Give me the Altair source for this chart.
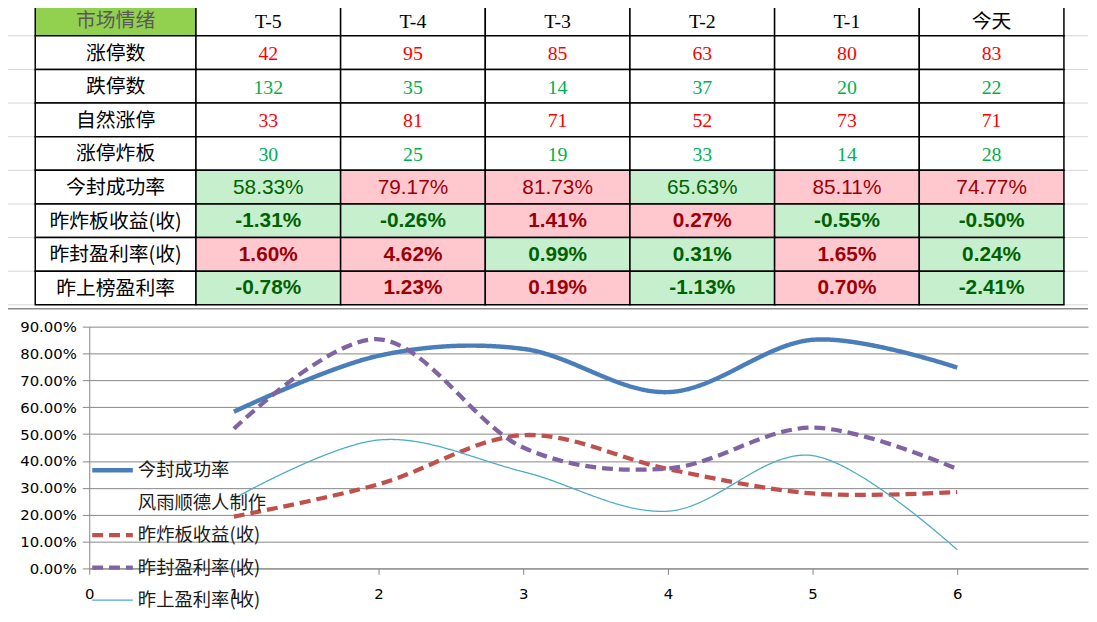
import altair as alt
import pandas as pd

# ---------------- table content ----------------
corner_label = "市场情绪"
day_labels = ["T-5", "T-4", "T-3", "T-2", "T-1", "今天"]
row_labels = ["涨停数", "跌停数", "自然涨停", "涨停炸板", "今封成功率",
              "昨炸板收益(收)", "昨封盈利率(收)", "昨上榜盈利率"]
limit_up = [42, 95, 85, 63, 80, 83]
limit_down = [132, 35, 14, 37, 20, 22]
natural_up = [33, 81, 71, 52, 73, 71]
limit_broken = [30, 25, 19, 33, 14, 28]
seal_rate = [58.33, 79.17, 81.73, 65.63, 85.11, 74.77]
broken_ret = [-1.31, -0.26, 1.41, 0.27, -0.55, -0.50]
sealed_ret = [1.60, 4.62, 0.99, 0.31, 1.65, 0.24]
listed_ret = [-0.78, 1.23, 0.19, -1.13, 0.70, -2.41]

# ---------------- line chart content ----------------
x_points = [1, 2, 3, 4, 5, 6]
series_names = ["今封成功率", "风雨顺德人制作", "昨炸板收益(收)", "昨封盈利率(收)", "昨上盈利率(收)"]
line_seal = [58.33, 79.17, 81.73, 65.63, 85.11, 74.77]
line_broken = [19.3, 31.3, 49.6, 37.0, 27.9, 28.4]
line_sealed = [52.0, 85.3, 45.0, 37.2, 52.4, 37.0]
line_listed = [26.0, 47.8, 36.0, 21.3, 42.0, 6.9]
y_ticks = [0, 10, 20, 30, 40, 50, 60, 70, 80, 90]
x_ticks = [0, 1, 2, 3, 4, 5, 6]

# ---------------- styles / layout ----------------
RED_NUM = "#FF0000"
GREEN_NUM = "#00B050"
PINK_BG, PINK_TXT = "#FFC7CE", "#9C0006"
GREEN_BG, GREEN_TXT = "#C6EFCE", "#006100"
CORNER_BG = "#92D050"
SERIES_COLORS = ["#4A7EBB", "#FFFFFF", "#C0504D", "#8064A2", "#4BACC6"]
SERIES_DASH = [[1, 0], [1, 0], [11, 6], [11, 6], [1, 0]]
SERIES_WIDTH = {"今封成功率": 4.5, "风雨顺德人制作": 0.0, "昨炸板收益(收)": 4.3,
                "昨封盈利率(收)": 4.3, "昨上盈利率(收)": 1.3}
GRID = "#868686"

PAGE_W = 1097
PLOT_LEFT = 89
PLOT_W = 1008
TABLE_LEFT = 34.5
LABEL_W = 162.2
COL_W = 146
TABLE_H = 304
ROW_TOP_CUT = 0.043          # the header row is partly cropped at the top edge
CJK = "Noto Sans CJK SC"
SERIF = "'Liberation Serif', 'Noto Sans CJK SC'"
SANS = "'Liberation Sans', 'Noto Sans CJK SC'"

edges = [TABLE_LEFT, TABLE_LEFT + LABEL_W] + [TABLE_LEFT + LABEL_W + COL_W * (i + 1) for i in range(6)]

# thresholds for conditional formatting of the percentage rows
pct_rows = {5: (seal_rate, 70.0), 6: (broken_ret, 0.0), 7: (sealed_ret, 1.0), 8: (listed_ret, 0.0)}
count_rows = {1: (limit_up, RED_NUM), 2: (limit_down, GREEN_NUM), 3: (natural_up, RED_NUM), 4: (limit_broken, GREEN_NUM)}

cells = []
for r in range(9):
    for c in range(7):
        fill, text, tcolor, kind = "#FFFFFF", "", "#000000", "serif"
        if r == 0:
            if c == 0:
                fill, text, tcolor, kind = CORNER_BG, corner_label, "#5A5A5A", "hcjk"
            else:
                text, kind = day_labels[c - 1], "hserif"
        elif c == 0:
            text, kind = row_labels[r - 1], "cjk"
        elif r in count_rows:
            vals, col = count_rows[r]
            text, tcolor = str(vals[c - 1]), col
        else:
            vals, thr = pct_rows[r]
            v = vals[c - 1]
            good = v >= thr if r != 7 else v > thr
            fill, tcolor = (PINK_BG, PINK_TXT) if good else (GREEN_BG, GREEN_TXT)
            text = f"{v:.2f}%"
            kind = "pct" if r == 5 else "pctb"
        cells.append(dict(x0=edges[c], x1=edges[c + 1], xc=(edges[c] + edges[c + 1]) / 2,
                          y0=r, y1=r + 1, yc=r + 0.5, fill=fill, text=text, tc=tcolor, kind=kind))
cells = pd.DataFrame(cells)

tx = alt.Scale(domain=[PLOT_LEFT, PLOT_LEFT + PLOT_W], nice=False, zero=False)
ty = alt.Scale(domain=[ROW_TOP_CUT, 9], reverse=True, nice=False, zero=False)

sheet_lines = pd.DataFrame({"y": list(range(1, 10)), "x0": [0] * 9, "x1": [PAGE_W] * 9})
gray = alt.Chart(sheet_lines).mark_rule(color="#D4D4D4", strokeWidth=1).encode(
    x=alt.X("x0:Q", scale=tx, axis=None), x2="x1:Q",
    y=alt.Y("y:Q", scale=ty, axis=None))

frame = alt.Chart(pd.DataFrame({"x0": [0], "x1": [PAGE_W]})).mark_rule(color="#8C8C8C", strokeWidth=1.5).encode(
    x=alt.X("x0:Q", scale=tx, axis=None), x2="x1:Q", y=alt.value(TABLE_H + 4))

rects = alt.Chart(cells).mark_rect(stroke="#000000", strokeWidth=1.5).encode(
    x=alt.X("x0:Q", scale=tx, axis=None), x2="x1:Q",
    y=alt.Y("y0:Q", scale=ty, axis=None), y2="y1:Q",
    color=alt.Color("fill:N", scale=None))


def text_layer(kind, font, size, weight="normal", dy=2):
    return alt.Chart(cells[cells.kind == kind]).mark_text(
        font=font, fontSize=size, fontWeight=weight, baseline="middle", align="center", dy=dy).encode(
        x=alt.X("xc:Q", scale=tx, axis=None),
        y=alt.Y("yc:Q", scale=ty, axis=None),
        text="text:N",
        color=alt.Color("tc:N", scale=None))


table = alt.layer(
    gray, frame, rects,
    text_layer("hserif", SERIF, 20, dy=3),
    text_layer("hcjk", CJK, 20, dy=2.5),
    text_layer("serif", SERIF, 20, dy=1.5),
    text_layer("cjk", CJK, 20, dy=1),
    text_layer("pct", SANS, 21, dy=0.5),
    text_layer("pctb", SANS, 21, "bold", dy=0.5),
).properties(width=PLOT_W, height=TABLE_H)

# ---------------- line chart ----------------
rows = []
for name, vals in zip([series_names[0], series_names[2], series_names[3], series_names[4]],
                      [line_seal, line_broken, line_sealed, line_listed]):
    for x, v in zip(x_points, vals):
        rows.append(dict(series=name, x=x, v=v, w=SERIES_WIDTH[name]))
lines_df = pd.DataFrame(rows)

color_s = alt.Scale(domain=series_names, range=SERIES_COLORS)
dash_s = alt.Scale(domain=series_names, range=SERIES_DASH)

lines = alt.Chart(lines_df).mark_line(interpolate="cardinal", strokeCap="butt").encode(
    x=alt.X("x:Q", scale=alt.Scale(domain=[0, PLOT_W / 146], nice=False, zero=False),
            axis=alt.Axis(values=x_ticks, format="d", title=None, grid=False,
                          labelFont="DejaVu Sans", labelFontSize=15, labelColor="#000000",
                          tickSize=6, tickColor=GRID, domainColor=GRID, labelPadding=12,
                          labelFlush=False)),
    y=alt.Y("v:Q", scale=alt.Scale(domain=[0, 90], nice=False, zero=False),
            axis=alt.Axis(values=y_ticks, labelExpr="format(datum.value, '.2f') + '%'", title=None,
                          grid=True, gridColor=GRID, gridWidth=1, gridOpacity=1,
                          labelFont="DejaVu Sans", labelFontSize=15, labelColor="#000000",
                          tickSize=7, tickColor=GRID, domainColor=GRID, labelPadding=6)),
    color=alt.Color("series:N", scale=color_s, legend=None),
    strokeDash=alt.StrokeDash("series:N", scale=dash_s, legend=None),
    strokeWidth=alt.StrokeWidth("w:Q", scale=None),
    detail="series:N",
)

legend_df = pd.DataFrame({"series": series_names, "w": [SERIES_WIDTH[n] for n in series_names]})
leg_y = alt.Y("series:N", scale=alt.Scale(type="point", domain=series_names, range=[145, 276], padding=0),
              axis=None)
leg_rules = alt.Chart(legend_df[legend_df.series != series_names[1]]).mark_rule(strokeCap="butt").encode(
    x=alt.value(3), x2=alt.value(44), y=leg_y,
    color=alt.Color("series:N", scale=color_s, legend=None),
    strokeDash=alt.StrokeDash("series:N", scale=dash_s, legend=None),
    strokeWidth=alt.StrokeWidth("w:Q", scale=None),
)
leg_text = alt.Chart(legend_df).mark_text(align="left", baseline="middle", font=CJK, fontSize=18.5,
                                          color="#1A1A1A").encode(
    x=alt.value(49), y=leg_y, text="series:N")

line_chart = alt.layer(lines, leg_rules, leg_text).resolve_scale(y="independent").properties(
    width=PLOT_W, height=244)

chart = alt.vconcat(table, line_chart, spacing=22, bounds="flush").resolve_scale(
    x="independent", y="independent", color="independent", strokeDash="independent"
).configure_view(stroke=None).properties(
    padding={"left": -8, "top": -10.2, "right": 0, "bottom": 0}, background="#FFFFFF")

chart.save("out.html", embed_options={"renderer": "svg", "actions": False})
